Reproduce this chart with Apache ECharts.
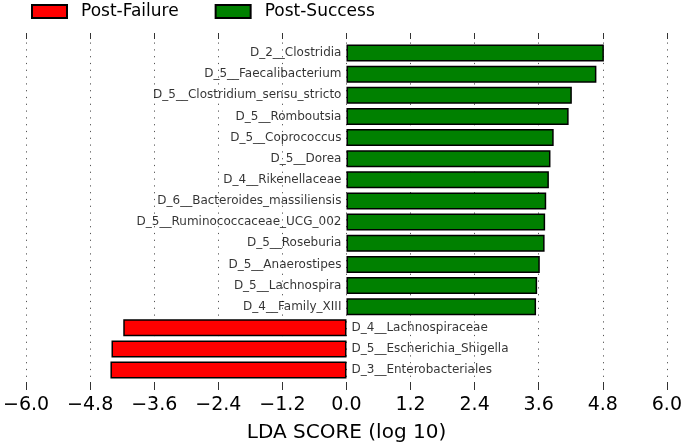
<!DOCTYPE html>
<html>
<head>
<meta charset="utf-8">
<script src="https://cdn.jsdelivr.net/npm/echarts@6/dist/echarts.min.js"></script>
<style>
html,body{margin:0;padding:0;background:#fff;}
#chart{width:685px;height:448px;}
</style>
</head>
<body>
<div id="chart"></div>
<script>
// ---- data ----
const categories = [
  "D_2__Clostridia",
  "D_5__Faecalibacterium",
  "D_5__Clostridium_sensu_stricto",
  "D_5__Romboutsia",
  "D_5__Coprococcus",
  "D_5__Dorea",
  "D_4__Rikenellaceae",
  "D_6__Bacteroides_massiliensis",
  "D_5__Ruminococcaceae_UCG_002",
  "D_5__Roseburia",
  "D_5__Anaerostipes",
  "D_5__Lachnospira",
  "D_4__Family_XIII",
  "D_4__Lachnospiraceae",
  "D_5__Escherichia_Shigella",
  "D_3__Enterobacteriales"
];
const ldaScores = [4.82, 4.68, 4.22, 4.16, 3.88, 3.82, 3.79, 3.74, 3.72, 3.71, 3.62, 3.57, 3.55, -4.18, -4.40, -4.42];
const groupNames = ["Post-Failure", "Post-Success"];
const xTicks = { min: -6.0, max: 6.0, step: 1.2 };
const axisTitle = "LDA SCORE (log 10)";

// ---- derived series ----
const failureData = ldaScores.map(v => v < 0 ? v : '-');
const successData = ldaScores.map(v => v >= 0 ? v : '-');
const labelData = categories.map((c, i) => ({
  value: [0, c],
  label: { position: ldaScores[i] >= 0 ? 'left' : 'right' }
}));

const FONT = 'DejaVu Sans';
const fmt = v => {
  if (Math.abs(v) < 1e-9) return '0.0';
  return (v < 0 ? '\u2212' : '') + Math.abs(v).toFixed(1);
};

const chart = echarts.init(document.getElementById('chart'), null, { renderer: 'canvas' });
chart.setOption({
  animation: false,
  backgroundColor: '#ffffff',
  textStyle: { fontFamily: FONT },
  legend: {
    data: groupNames,
    left: 31,
    top: 3,
    padding: 0,
    icon: 'rect',
    itemWidth: 35,
    itemHeight: 13,
    itemGap: 36,
    textStyle: { fontFamily: FONT, fontSize: 17, color: '#000', padding: [0, 0, 0, 9] }
  },
  grid: { left: 25, right: 16.7, top: 42.5, bottom: 67.4, containLabel: false },
  xAxis: [
    {
      type: 'value',
      position: 'bottom',
      min: xTicks.min, max: xTicks.max, interval: xTicks.step,
      offset: 1.4,
      axisLine: { show: false },
      axisTick: { show: true, length: 8, lineStyle: { color: '#333', width: 1 } },
      axisLabel: { formatter: fmt, fontFamily: FONT, fontSize: 19, color: '#000', margin: 14 },
      splitLine: { show: true, lineStyle: { color: '#555', width: 1, type: [1.2, 5.6] } },
      name: axisTitle,
      nameLocation: 'middle',
      nameGap: 41,
      nameTextStyle: { fontFamily: FONT, fontSize: 20, color: '#000' }
    },
    {
      type: 'value',
      position: 'top',
      min: xTicks.min, max: xTicks.max, interval: xTicks.step,
      offset: 3.5,
      axisLine: { show: false },
      axisTick: { show: true, length: 6, lineStyle: { color: '#333', width: 1 } },
      axisLabel: { show: false },
      splitLine: { show: false }
    }
  ],
  yAxis: {
    type: 'category',
    data: categories,
    inverse: true,
    show: false
  },
  series: [
    {
      name: groupNames[0],
      type: 'bar',
      data: failureData,
      barWidth: 17,
      barGap: '-100%',
      itemStyle: { color: '#ff0000', borderColor: '#000', borderWidth: 1.5 }
    },
    {
      name: groupNames[1],
      type: 'bar',
      data: successData,
      barWidth: 17,
      barGap: '-100%',
      itemStyle: { color: '#008000', borderColor: '#000', borderWidth: 1.5 }
    },
    {
      name: 'labels',
      type: 'scatter',
      data: labelData,
      symbolSize: 0.1,
      itemStyle: { color: 'transparent' },
      silent: true,
      z: 5,
      label: {
        show: true,
        distance: 5,
        fontFamily: FONT,
        fontSize: 12,
        color: '#000',
        formatter: p => p.value[1]
      }
    }
  ]
});
</script>
</body>
</html>
